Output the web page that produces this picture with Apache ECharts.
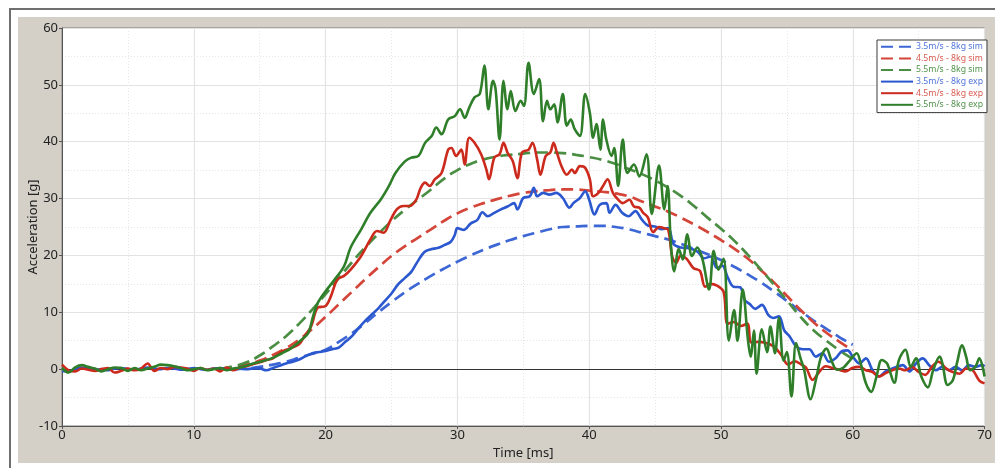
<!DOCTYPE html>
<html>
<head>
<meta charset="utf-8">
<script src="https://cdn.jsdelivr.net/npm/echarts@6/dist/echarts.min.js"></script>
<style>
  html, body { margin: 0; padding: 0; background: #ffffff; }
  #chart { width: 995px; height: 468px; }
</style>
</head>
<body>
<div id="chart"></div>
<script>
// Axis ticks
const xTicks = [0, 10, 20, 30, 40, 50, 60, 70];
const yTicks = [-10, 0, 10, 20, 30, 40, 50, 60];

// Simulation curves, sampled every 1 ms
const simTime = [12,13,14,15,16,17,18,19,20,21,22,23,24,25,26,27,28,29,30,31,32,33,34,35,36,37,38,39,40,41,42,43,44,45,46,47,48,49,50,51,52,53,54,55,56,57,58,59,60];
const sim35 = [null,0,0.1,0.4,0.8,1.3,2.0,2.7,3.4,4.8,6.3,8.1,10.0,11.8,13.5,15.0,16.4,17.7,18.9,20.0,21.0,21.9,22.7,23.4,24.0,24.6,25.0,25.1,25.2,25.2,25.0,24.6,24.0,23.4,22.8,22.0,21.1,20.2,19.2,18.0,16.7,15.3,13.7,12.0,10.3,8.6,7.1,5.6,4.3];
const sim45 = [0,0.3,0.8,1.5,2.5,3.7,5.2,7.1,9.2,11.4,13.6,15.8,17.9,19.9,21.6,23.1,24.6,26.1,27.4,28.4,29.2,29.9,30.5,31.0,31.3,31.5,31.6,31.6,31.4,31.2,30.9,30.4,29.5,28.6,27.7,26.6,25.4,24.1,22.7,21.2,19.5,17.5,15.3,12.9,10.5,8.3,6.4,4.8,3.3];
const sim55 = [0,0.5,1.2,2.4,4.0,5.8,8.0,10.5,13.2,16.0,18.8,21.4,23.8,26.0,28.0,29.8,31.6,33.5,35.0,36.1,36.9,37.4,37.7,37.9,38.1,38.1,38.0,37.7,37.3,36.8,36.1,35.2,34.3,33.2,31.9,30.4,28.6,26.6,24.7,22.6,20.2,17.6,14.9,12.1,9.3,6.9,5.0,3.3,1.8];

// Measured curves: [time ms, acceleration g]
const exp35 = [[0,-0.3],[0.5,-0.4],[1,0],[1.5,0.3],[2,0.2],[2.5,-0.1],[3,0],[3.5,-0.2],[4,0.1],[4.5,0.2],[5,0],[5.5,-0.1],[6,0.1],[6.5,0.3],[7,0.1],[7.5,0],[8,0.2],[8.5,0.1],[9,-0.1],[9.5,0],[10,0.2],[10.5,0],[11,-0.1],[11.5,0.1],[12,0.2],[12.5,0],[13,-0.1],[13.5,0.1],[14,0],[14.5,0.1],[15,0.1],[15.5,-0.2],[16,0.2],[16.5,0.6],[17,1.0],[17.5,1.3],[18,1.7],[18.5,2.3],[19,2.8],[19.5,3.0],[20,3.2],[20.5,3.5],[21,3.8],[21.5,4.8],[22,5.8],[22.5,7.2],[23,8.5],[23.5,9.6],[24,10.7],[24.5,12],[25,13.3],[25.5,14.9],[26,16],[26.5,17.1],[27,19],[27.5,20.6],[28,21.1],[28.5,21.3],[29,21.8],[29.5,22.4],[29.8,23.6],[30,24.8],[30.5,24.5],[31,25.6],[31.5,26.2],[31.9,27.6],[32.3,26.9],[32.8,27.5],[33.3,28.1],[33.8,28.6],[34.3,29.2],[34.55,28.1],[35,30.1],[35.5,30.4],[35.8,31.9],[36.05,30.4],[36.5,31],[37,30.7],[37.5,31],[38,30.1],[38.5,28.4],[38.8,29.2],[39.3,30.1],[39.7,31.3],[40,29.8],[40.4,27.2],[40.8,28.9],[41.3,29.2],[41.55,27.5],[42,28.9],[42.5,27.5],[43,26.9],[43.5,27.8],[44,26.3],[44.5,25.2],[45,25.1],[45.5,24.6],[46,24.8],[46.4,22.0],[46.95,21.4],[47.45,21.3],[47.95,21.0],[48.3,20.5],[48.7,19.5],[49.2,19.8],[49.7,17.8],[50.1,18.2],[50.5,16.2],[50.95,14.5],[51.45,14.4],[51.8,12.2],[52.2,11.4],[52.6,10.6],[53.1,11.3],[53.6,9.5],[53.95,9.0],[54.4,9.3],[54.8,6.8],[55.2,5.8],[55.7,4.0],[56.2,3.5],[56.7,3.5],[57.2,2.2],[57.7,2.8],[58.2,1.3],[58.7,1.9],[59.2,3.2],[59.6,3.3],[60,2.2],[60.5,1.0],[61,1.9],[61.5,-0.2],[62,-1.3],[62.5,-0.4],[63.3,0.4],[63.8,0.7],[64.3,-0.4],[64.8,1.0],[65.3,1.9],[65.8,0.7],[66.3,-0.2],[66.8,0.4],[67.3,-0.2],[67.8,0.4],[68.3,-0.2],[68.8,0.7],[69.3,0.4],[69.8,0.7],[70,0.5]];

const exp45 = [[0,0.8],[0.5,-0.2],[1,-0.4],[1.5,0.1],[2,-0.1],[2.5,-0.3],[3,0],[3.5,0.2],[4,-0.6],[4.5,-0.3],[5,0.1],[5.5,-0.2],[6,0.1],[6.5,1.0],[7,-0.3],[7.5,0.2],[8,0],[8.5,0.4],[9,0.3],[9.5,0.1],[10,-0.3],[10.5,0.2],[11,-0.1],[11.5,0.1],[12,-0.4],[12.5,0.3],[13,-0.2],[13.5,0.3],[14,0.5],[14.5,0.9],[15,1.2],[15.5,1.6],[16,1.9],[16.5,2.8],[17,3.4],[17.5,3.8],[18,4.4],[18.4,5.8],[18.9,7.5],[19.4,10.8],[20,11.1],[20.4,12.8],[20.9,15.8],[21.4,16.4],[21.9,17.5],[22.7,19.9],[23.4,22.8],[23.9,24.3],[24.4,24],[24.9,26.1],[25.4,28.1],[25.9,28.7],[26.4,28.7],[26.9,29.9],[27.2,31.8],[27.55,32.8],[27.9,32.2],[28.3,33.4],[28.8,34.5],[29.3,38.6],[29.55,38.9],[29.9,37.5],[30.3,38.6],[30.55,36],[30.9,40.7],[31.3,39.8],[31.8,37.8],[32.2,35.1],[32.4,33.4],[32.8,37.2],[33.2,37.8],[33.5,39.8],[33.8,38.1],[34.2,36.6],[34.55,33.6],[34.9,38.1],[35.4,38.6],[35.7,39.8],[36.05,36.9],[36.3,34.2],[36.7,37.5],[37.05,38.1],[37.3,39.8],[37.55,38.1],[37.9,35.7],[38.3,34.2],[38.7,35.1],[38.9,34.5],[39.3,35.7],[39.7,35.4],[40.05,33.4],[40.3,30.4],[40.7,31],[41.05,32.2],[41.4,33.4],[41.8,31],[42.2,29.8],[42.55,29.2],[43.05,29.8],[43.4,28.6],[43.8,28.4],[44.1,27.5],[44.45,26.7],[44.85,24.1],[45.3,25],[45.7,24.8],[46.0,24.5],[46.3,19.8],[46.6,18.7],[46.95,20.0],[47.4,19.4],[47.9,17.8],[48.4,17.3],[48.8,14.5],[49.2,15.0],[49.7,14.7],[50.2,13.6],[50.5,8.0],[51,8.3],[51.5,7.6],[52,8.0],[52.3,4.7],[52.8,4.8],[53.3,4.7],[54,4.0],[54.6,2.4],[55.1,0.8],[55.6,1.4],[56.1,0.8],[56.45,0.3],[56.95,-1.9],[57.45,-0.5],[57.95,0.5],[58.45,0.2],[58.95,-0.1],[59.45,-0.4],[59.95,0.2],[60.5,0.4],[61,-0.2],[61.5,-0.5],[62,-1.3],[62.5,-0.7],[63,-0.2],[63.5,0.1],[64,-0.2],[64.5,0.4],[65,-0.5],[65.5,-1.0],[66,0.4],[66.5,1.3],[67.1,0.1],[67.6,-0.5],[68.1,-0.8],[68.6,0.1],[69.1,-0.2],[69.6,-2.0],[70,-2.5]];

const exp55 = [[0,0.2],[0.5,-0.6],[1,0.3],[1.5,0.7],[2,0.4],[2.5,0.1],[3,-0.4],[3.5,0],[4,0.3],[4.5,0.2],[5,-0.3],[5.5,0.2],[6,-0.2],[6.5,0.1],[7,0.4],[7.5,0.8],[8,0.7],[8.5,0.5],[9,0.2],[9.5,-0.2],[10,0],[10.5,0.2],[11,-0.2],[11.5,0],[12,0.2],[12.5,-0.2],[13,0.1],[13.5,0.3],[14,0.6],[14.4,0.9],[15.2,1.4],[15.9,1.9],[16.7,2.8],[17.4,3.7],[18.2,5.2],[18.7,6.4],[19.05,9.3],[19.4,11.6],[20,13.7],[20.7,15.8],[21.4,18.1],[21.9,21.4],[22.7,24.6],[23.4,27.5],[24.2,29.9],[24.8,32.2],[25.3,34.5],[26,36.5],[26.5,37.2],[27.05,37.5],[27.55,39.8],[28.05,41],[28.4,42.5],[28.8,41.3],[29.3,43.9],[29.8,44.5],[30.2,45.7],[30.55,44.2],[30.9,46],[31.3,47.8],[31.7,48.4],[32.05,53.4],[32.35,45.7],[32.7,50.7],[32.9,49.2],[33.2,40.4],[33.5,50.7],[33.8,45.7],[34.05,48.9],[34.4,45.4],[34.8,47.2],[35.05,46.3],[35.4,53.9],[35.8,48.4],[36.2,51],[36.5,43.6],[36.8,47.2],[37.05,45.7],[37.35,46.6],[37.6,43.4],[38,48.4],[38.3,42.8],[38.6,43.9],[38.9,42.2],[39.3,41],[39.7,48.4],[40.05,45.1],[40.3,40.7],[40.55,43.1],[40.85,38.6],[41.05,43.9],[41.3,40.4],[41.7,37.5],[41.9,38.9],[42.2,32.2],[42.55,40.4],[42.9,34.5],[43.4,36],[43.8,33.9],[44.35,37.8],[44.75,27.3],[45.3,35.8],[45.7,28.1],[45.95,32.2],[46.2,22],[46.45,17.2],[46.8,21.1],[47.1,19.3],[47.45,23.7],[47.8,19.9],[48.2,21.4],[48.6,19.3],[49.1,14],[49.45,20.8],[49.8,17.5],[50.2,19.4],[50.6,5],[51,10.4],[51.25,5],[51.65,14],[52.05,5.1],[52.25,2.2],[52.5,6.8],[52.7,-0.8],[53.1,7],[53.5,3],[53.75,7.5],[54.1,2.8],[54.4,9],[54.75,1.5],[55.0,3.0],[55.35,-4.8],[55.7,4.6],[56.05,1.8],[56.3,0],[56.8,-5.3],[57.2,-1.9],[57.6,2.2],[58,3.6],[58.4,1.4],[58.8,-0.1],[59.3,0.3],[59.8,1.6],[60.3,2.8],[60.6,1.0],[61,-2.5],[61.4,-4],[61.8,-1.3],[62.2,1.6],[62.6,1.0],[63.15,-2.4],[63.5,1.6],[64,3.4],[64.4,0.4],[64.8,1.9],[65.2,-1.3],[65.7,-3.2],[66.1,-0.2],[66.6,2.2],[66.8,1.0],[67.2,-2.8],[67.6,-1.9],[67.9,1.0],[68.3,4.2],[68.6,2.2],[68.9,-0.2],[69.3,0.4],[69.6,1.9],[70,-1.3]];

const seriesNames = ['3.5m/s - 8kg sim','4.5m/s - 8kg sim','5.5m/s - 8kg sim','3.5m/s - 8kg exp','4.5m/s - 8kg exp','5.5m/s - 8kg exp'];

const BLUE = '#2b57cf', RED = '#cb2a1c', GREEN = '#2f7e29';
const BLUE_D = '#3e67d6', RED_D = '#d4453a', GREEN_D = '#4a8e43';
const LEGEND_TXT = ['#4f74da','#d95a50','#4f9249','#4f74da','#d95a50','#4f9249'];

const zip = (xs, ys) => xs.map((x, i) => [x, ys[i]]);

function simSeries(name, values, color) {
  return {
    name, type: 'line', data: zip(simTime, values),
    showSymbol: false, symbol: 'none', smooth: true,
    lineStyle: { color, width: 2.7, type: [12, 6] },
    itemStyle: { color }, z: 3
  };
}
function expSeries(name, values, color) {
  return {
    name, type: 'line', data: values,
    showSymbol: false, symbol: 'none', smooth: 0.35,
    lineStyle: { color, width: 2.6 },
    itemStyle: { color }, z: 4
  };
}

const chart = echarts.init(document.getElementById('chart'), null, { renderer: 'canvas' });
const font = '"Noto Sans", "DejaVu Sans", sans-serif';

chart.setOption({
  animation: false,
  backgroundColor: '#ffffff',
  textStyle: { fontFamily: font },
  graphic: [
    { type: 'rect', left: 18, top: 17, shape: { width: 977, height: 446 }, style: { fill: '#d4d0c8' }, z: -10 },
    { type: 'polyline', shape: { points: [[10, 468], [10, 9], [995, 9]] }, style: { stroke: '#6f6f6f', lineWidth: 2, fill: null }, z: -9 }
  ],
  grid: { left: 62, top: 28, width: 927, height: 398, show: true, backgroundColor: '#ffffff', borderColor: '#7a7a7a', borderWidth: 1 },
  legend: {
    orient: 'vertical', left: 877, top: 40,
    padding: [1, 4, 2, 3], itemGap: 0, itemWidth: 32, itemHeight: 4,
    backgroundColor: '#ffffff', borderColor: '#3a3a3a', borderWidth: 1, borderRadius: 0,
    itemStyle: { opacity: 0 },
    data: seriesNames.map((n, i) => ({ name: n, textStyle: { color: LEGEND_TXT[i] } })),
    textStyle: { fontSize: 8.7, lineHeight: 11.6, fontFamily: font, padding: [0, 0, 0, -2] }
  },
  xAxis: {
    type: 'value', min: xTicks[0], max: xTicks[xTicks.length - 1], interval: 10,
    name: 'Time [ms]', nameLocation: 'middle', nameGap: 19,
    nameTextStyle: { fontSize: 13, color: '#222' },
    axisLine: { show: true, onZero: false, lineStyle: { color: '#555', width: 1 } },
    axisTick: { show: true, length: 3, lineStyle: { color: '#555' } },
    axisLabel: { fontSize: 13, color: '#222', margin: 3 },
    splitLine: { show: true, lineStyle: { color: '#e3e3e3', width: 1.2 } },
    minorTick: { show: false, splitNumber: 2 },
    minorSplitLine: { show: true, lineStyle: { color: '#e6e6e6', type: [1, 2], width: 1 } }
  },
  yAxis: {
    type: 'value', min: yTicks[0], max: yTicks[yTicks.length - 1], interval: 10,
    name: 'Acceleration [g]', nameLocation: 'middle', nameGap: 22, nameMoveOverlap: false,
    nameTextStyle: { fontSize: 13, color: '#222' },
    axisLine: { show: true, onZero: false, lineStyle: { color: '#555', width: 1 } },
    axisTick: { show: true, length: 3, lineStyle: { color: '#555' } },
    axisLabel: { fontSize: 13, color: '#222', margin: 4 },
    splitLine: { show: true, lineStyle: { color: '#e3e3e3', width: 1.2 } },
    minorTick: { show: false, splitNumber: 2 },
    minorSplitLine: { show: true, lineStyle: { color: '#e6e6e6', type: [1, 2], width: 1 } }
  },
  series: [
    simSeries(seriesNames[0], sim35, BLUE_D),
    simSeries(seriesNames[1], sim45, RED_D),
    simSeries(seriesNames[2], sim55, GREEN_D),
    expSeries(seriesNames[3], exp35, BLUE),
    expSeries(seriesNames[4], exp45, RED),
    Object.assign(expSeries(seriesNames[5], exp55, GREEN), {
      markLine: {
        silent: true, symbol: 'none', label: { show: false },
        lineStyle: { color: '#333', width: 1, type: 'solid' },
        data: [{ yAxis: 0 }], z: 2
      }
    })
  ]
});
</script>
</body>
</html>
